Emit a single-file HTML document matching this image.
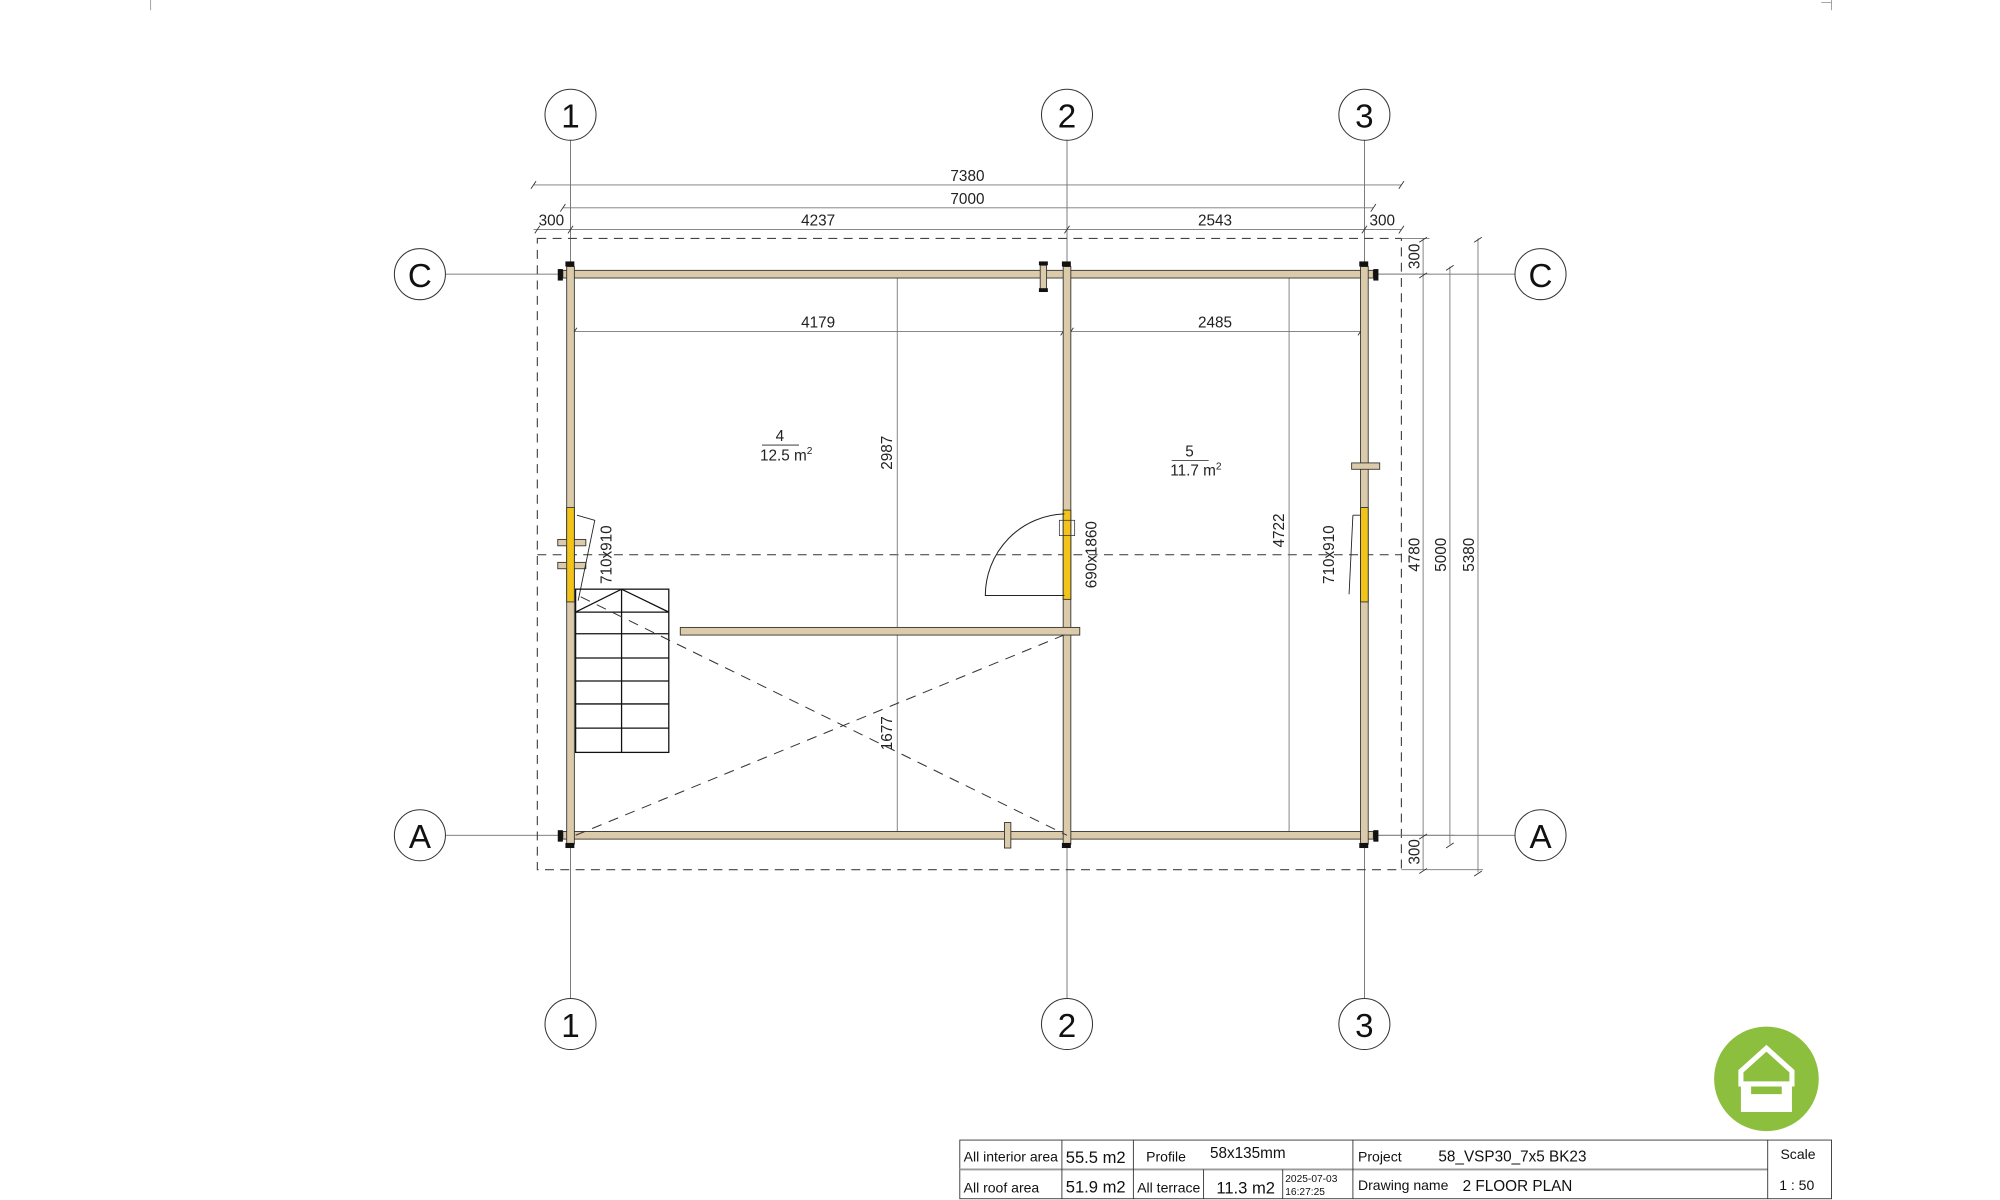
<!DOCTYPE html>
<html><head><style>html,body{margin:0;padding:0;background:#fff;}svg{display:block}</style></head>
<body>
<svg width="2000" height="1200" viewBox="0 0 1567 941" preserveAspectRatio="none" xmlns="http://www.w3.org/2000/svg" font-family="Liberation Sans, sans-serif">
<path d="M118 0V8M1435 0V8M1427 2H1435" stroke="#999" stroke-width="0.7" fill="none"/>
<g stroke="#555" stroke-width="0.6">
<line x1="447" y1="110" x2="447" y2="783"/>
<line x1="836" y1="110" x2="836" y2="783"/>
<line x1="1069" y1="110" x2="1069" y2="783"/>
<line x1="349" y1="215" x2="1187" y2="215"/>
<line x1="349" y1="655" x2="1187" y2="655"/>
</g>
<g fill="#fff" stroke="#333" stroke-width="0.8">
<circle cx="447" cy="90" r="20"/><circle cx="836" cy="90" r="20"/><circle cx="1069" cy="90" r="20"/>
<circle cx="447" cy="803" r="20"/><circle cx="836" cy="803" r="20"/><circle cx="1069" cy="803" r="20"/>
<circle cx="329" cy="215" r="20"/><circle cx="1207" cy="215" r="20"/>
<circle cx="329" cy="655" r="20"/><circle cx="1207" cy="655" r="20"/>
</g>
<g font-size="26" text-anchor="middle" fill="#111">
<text x="447" y="100">1</text><text x="836" y="100">2</text><text x="1069" y="100">3</text>
<text x="447" y="813">1</text><text x="836" y="813">2</text><text x="1069" y="813">3</text>
<text x="329" y="225">C</text><text x="1207" y="225">C</text>
<text x="329" y="665">A</text><text x="1207" y="665">A</text>
</g>
<rect x="421" y="187" width="677" height="495" fill="none" stroke="#444" stroke-width="0.9" stroke-dasharray="7,5"/>
<line x1="421" y1="435" x2="1098" y2="435" stroke="#333" stroke-width="0.8" stroke-dasharray="7,5"/>
<g stroke="#777" stroke-width="0.7">
<line x1="418" y1="145" x2="1098" y2="145"/>
<line x1="441" y1="163" x2="1076" y2="163"/>
<line x1="418" y1="180" x2="1098" y2="180"/>
<line x1="450" y1="260" x2="1066" y2="260"/>
<line x1="703" y1="215" x2="703" y2="655"/>
<line x1="1010" y1="215" x2="1010" y2="655"/>
<line x1="1115" y1="187" x2="1115" y2="682"/>
<line x1="1136" y1="209" x2="1136" y2="662"/>
<line x1="1158" y1="187" x2="1158" y2="684"/>
<line x1="1098" y1="187" x2="1120" y2="187"/><line x1="1098" y1="682" x2="1162" y2="682"/>
<line x1="1080" y1="215" x2="1120" y2="215"/><line x1="1080" y1="655" x2="1140" y2="655"/>
</g>
<g stroke="#333" stroke-width="0.7">
<path d="M416 148l4-6M1096 148l4-6M439 166l4-6M1074 166l4-6M419 183l4-6M445 183l4-6M834 183l4-6M1067 183l4-6M1096 183l4-6M448 263l4-6M831 263l4-6M837 263l4-6M1064 263l4-6"/>
<path d="M700 218l6-4M700 498l6-4M700 658l6-4M1007 218l6-4M1007 658l6-4M1112 190l6-4M1112 218l6-4M1112 658l6-4M1112 685l6-4M1133 212l6-4M1133 665l6-4M1155 190l6-4M1155 687l6-4"/>
</g>
<g font-size="12" fill="#222" text-anchor="middle">
<text x="758" y="142">7380</text>
<text x="758" y="160">7000</text>
<text x="432" y="177">300</text>
<text x="641" y="177">4237</text>
<text x="952" y="177">2543</text>
<text x="1083" y="177">300</text>
<text x="641" y="257">4179</text>
<text x="952" y="257">2485</text>
<text transform="translate(699,355) rotate(-90)">2987</text>
<text transform="translate(699,575) rotate(-90)">1677</text>
<text transform="translate(1006,416) rotate(-90)">4722</text>
<text transform="translate(1112,201) rotate(-90)">300</text>
<text transform="translate(1112,668) rotate(-90)">300</text>
<text transform="translate(1112,435) rotate(-90)">4780</text>
<text transform="translate(1133,435) rotate(-90)">5000</text>
<text transform="translate(1155,435) rotate(-90)">5380</text>
<text transform="translate(479,435) rotate(-90)">710x910</text>
<text transform="translate(859,435) rotate(-90)">690x1860</text>
<text transform="translate(1045,435) rotate(-90)">710x910</text>
</g>
<g font-size="12" fill="#222" text-anchor="middle">
<text x="611" y="346">4</text><line x1="597" y1="349" x2="626" y2="349" stroke="#222" stroke-width="0.6"/>
<text x="616" y="361">12.5 m<tspan font-size="8" dy="-5">2</tspan></text>
<text x="932" y="358">5</text><line x1="918" y1="361" x2="947" y2="361" stroke="#222" stroke-width="0.6"/>
<text x="937" y="373">11.7 m<tspan font-size="8" dy="-5">2</tspan></text>
</g>
<g fill="#dccbaa" stroke="#333" stroke-width="0.7">
<rect x="441" y="212" width="635" height="6"/>
<rect x="441" y="652" width="635" height="6"/>
<rect x="444" y="209" width="6" height="453"/>
<rect x="833" y="209" width="6" height="453"/>
<rect x="1066" y="209" width="6" height="453"/>
<rect x="533" y="492" width="313" height="6"/>
<rect x="815" y="208" width="5" height="20"/>
<rect x="787" y="645" width="5" height="20"/>
<rect x="1059" y="363" width="22" height="5"/>
<rect x="437" y="423" width="22" height="5"/>
<rect x="437" y="441" width="22" height="5"/>
</g>
<g fill="#111">
<rect x="437" y="211" width="4" height="9"/><rect x="1076" y="211" width="4" height="9"/>
<rect x="437" y="651" width="4" height="9"/><rect x="1076" y="651" width="4" height="9"/>
<rect x="443" y="205" width="7" height="4"/><rect x="832" y="205" width="7" height="4"/><rect x="1065" y="205" width="7" height="4"/>
<rect x="443" y="661" width="7" height="4"/><rect x="832" y="661" width="7" height="4"/><rect x="1065" y="661" width="7" height="4"/>
<rect x="814" y="205" width="7" height="3"/><rect x="814" y="226" width="7" height="3"/>
</g>
<g fill="#f2c318" stroke="#333" stroke-width="0.7">
<rect x="444" y="398" width="6" height="74"/>
<rect x="1066" y="398" width="6" height="74"/>
<rect x="833" y="400" width="6" height="70"/>
</g>
<path d="M452 404l14 4-13 63" fill="none" stroke="#222" stroke-width="0.7"/>
<path d="M1060 404l6 0M1060 404l-3 62" fill="none" stroke="#222" stroke-width="0.7"/>
<path d="M834 403A64 64 0 0 0 772 467H834" fill="none" stroke="#222" stroke-width="0.8"/>
<rect x="830" y="408" width="12" height="12" fill="none" stroke="#333" stroke-width="0.6"/>
<g stroke="#111" stroke-width="1" fill="none">
<rect x="451" y="462" width="73" height="128"/>
<line x1="487" y1="462" x2="487" y2="590"/>
<line x1="451" y1="480" x2="524" y2="480"/>
<line x1="451" y1="497" x2="524" y2="497"/>
<line x1="451" y1="516" x2="524" y2="516"/>
<line x1="451" y1="534" x2="524" y2="534"/>
<line x1="451" y1="552" x2="524" y2="552"/>
<line x1="451" y1="571" x2="524" y2="571"/>
<path d="M451 480L487 462L524 480"/>
</g>
<g stroke="#333" stroke-width="0.8" stroke-dasharray="8,6">
<line x1="455" y1="468" x2="836" y2="655"/>
<line x1="451" y1="655" x2="836" y2="497"/>
</g>
<circle cx="1384" cy="846" r="41" fill="#8dbf3f"/>
<path d="M1384 822l-20 18v10h40v-10z" fill="none" stroke="#fff" stroke-width="4"/>
<path d="M1364 852h8v6h24v-6h8v20h-40z" fill="#fff"/>
<g stroke="#333" stroke-width="0.7" fill="none">
<rect x="752" y="894" width="683" height="46"/>
<line x1="752" y1="917" x2="1385" y2="917" stroke="#999" stroke-width="1.5"/>
<line x1="832" y1="894" x2="832" y2="940"/>
<line x1="888" y1="894" x2="888" y2="940"/>
<line x1="943" y1="917" x2="943" y2="940"/>
<line x1="1005" y1="917" x2="1005" y2="940"/>
<line x1="1060" y1="894" x2="1060" y2="940"/>
<line x1="1385" y1="894" x2="1385" y2="940"/>
</g>
<g font-size="11" fill="#111">
<text x="755" y="911">All interior area</text>
<text x="835" y="912" font-size="13">55.5 m2</text>
<text x="898" y="911">Profile</text>
<text x="948" y="908" font-size="12">58x135mm</text>
<text x="1064" y="911">Project</text>
<text x="1127" y="911" font-size="12">58_VSP30_7x5 BK23</text>
<text x="1395" y="909">Scale</text>
<text x="755" y="935">All roof area</text>
<text x="835" y="935" font-size="13">51.9 m2</text>
<text x="891" y="935">All terrace</text>
<text x="953" y="936" font-size="13">11.3 m2</text>
<text x="1007" y="927" font-size="8">2025-07-03</text>
<text x="1007" y="937" font-size="8">16:27:25</text>
<text x="1064" y="933">Drawing name</text>
<text x="1146" y="934" font-size="12">2 FLOOR PLAN</text>
<text x="1394" y="933">1 : 50</text>
</g>
</svg>
</body></html>
